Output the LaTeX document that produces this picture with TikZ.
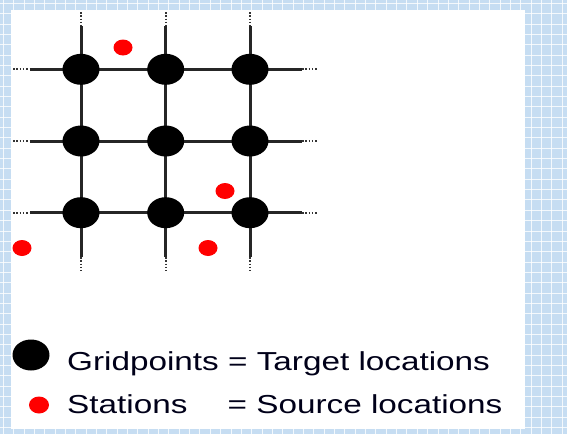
\documentclass[tikz,border=0pt]{standalone}
\usepackage{fontspec}
\setmainfont{Liberation Sans}
\newfontfamily\legendfont[FakeStretch=1.28]{Liberation Sans}
\usetikzlibrary{shapes.geometric,backgrounds}
\definecolor{bgblue}{HTML}{C6DDF2}
\definecolor{dotred}{HTML}{FF0000}
\tikzset{
  gridpt/.style={ellipse,fill=black,draw=none,minimum width=37pt,minimum height=31pt,inner sep=0pt},
  station/.style={ellipse,fill=dotred,draw=none,minimum width=19pt,minimum height=16pt,inner sep=0pt},
  gline/.style={draw=black!85,line width=3pt},
  dline/.style={draw=black!80,line width=2pt,dash pattern=on 1.5pt off 1.8pt},
  legtext/.style={anchor=base west,inner sep=0pt,text=black!90!blue,font=\legendfont\fontsize{26}{30}\selectfont}
}
\begin{document}
\begin{tikzpicture}[x=1pt,y=-1pt]
\useasboundingbox (0,0) rectangle (567,434);
% grid points
\foreach \r/\yy in {1/69.3,2/141,3/212.7}{
  \foreach \c/\xx in {1/81,2/165.7,3/250}{
    \node[gridpt] (g\r\c) at (\xx,\yy) {};
  }
  \coordinate (hL\r) at (13,\yy);
  \coordinate (hA\r) at (30,\yy);
  \coordinate (hB\r) at (302,\yy);
  \coordinate (hR\r) at (318,\yy);
}
\foreach \c/\xx in {1/81,2/165.7,3/250}{
  \coordinate (vT\c) at (\xx,12);
  \coordinate (vA\c) at (\xx,26);
  \coordinate (vB\c) at (\xx,257);
  \coordinate (vE\c) at (\xx,271);
}
% stations
\node[station] (s1) at (123,47.5) {};
\node[station] (s2) at (225,191) {};
\node[station] (s3) at (22,248) {};
\node[station] (s4) at (208,248) {};
% legend
\node[gridpt] (lg) at (31,355) {};
\node[station,minimum width=20pt,minimum height=17pt] (ls) at (39,405) {};
\node[legtext] (t1) at (67,370) {Gridpoints = Target locations};
\node[legtext] (t2a) at (67,413) {Stations};
\node[legtext] (t2b) at (227.5,413) {= Source locations};
\begin{pgfonlayer}{background}
  \fill[bgblue] (0,0) rectangle (567,434);
  \foreach \i in {0,...,55}{
    \draw[white,opacity=0.8,line width=1pt] (3.3+\i*10.35,0) -- (3.3+\i*10.35,434);
    \draw[white,opacity=0.8,line width=1pt] (0,3.3+\i*10.35) -- (567,3.3+\i*10.35);
  }
  \fill[white] (11,10) rectangle (525,429);
  \foreach \r in {1,2,3}{
    \draw[dline] (hL\r) -- (hA\r);
    \draw[gline] (hA\r) -- (g\r1.center) -- (g\r2.center) -- (g\r3.center) -- (hB\r);
    \draw[dline] (hB\r) -- (hR\r);
  }
  \foreach \c in {1,2,3}{
    \draw[dline] (vT\c) -- (vA\c);
    \draw[gline] (vA\c) -- (g1\c.center) -- (g2\c.center) -- (g3\c.center) -- (vB\c);
    \draw[dline] (vB\c) -- (vE\c);
  }
\end{pgfonlayer}
\end{tikzpicture}
\end{document}
